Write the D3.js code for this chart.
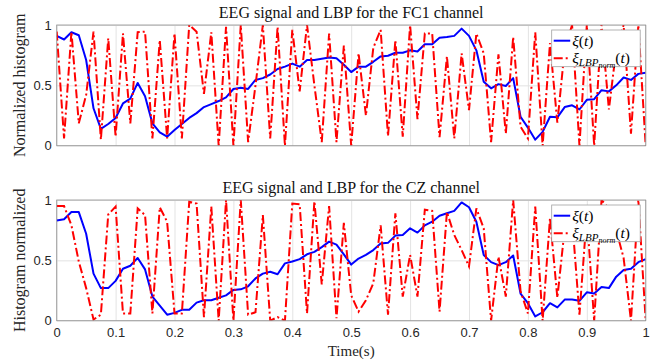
<!DOCTYPE html>
<html>
<head>
<meta charset="utf-8">
<script src="https://cdn.jsdelivr.net/npm/d3@7"></script>
<style>
  body { margin: 0; background: #fff; }
</style>
</head>
<body>
<div id="chart"></div>
<script>
// samples every 0.0125 s over one second
const sampleCount = 81;
const time = d3.range(sampleCount).map(i => i / (sampleCount - 1));

const fc1Eeg = [0.91, 0.88, 0.94, 0.915, 0.71, 0.31, 0.14, 0.18, 0.23, 0.35, 0.39, 0.52, 0.41, 0.185, 0.11, 0.075,
  0.13, 0.18, 0.23, 0.27, 0.32, 0.345, 0.37, 0.40, 0.47, 0.48, 0.47, 0.545, 0.56, 0.59, 0.635, 0.655,
  0.68, 0.655, 0.71, 0.71, 0.72, 0.73, 0.725, 0.67, 0.61, 0.655, 0.655, 0.695, 0.74, 0.745, 0.77, 0.77,
  0.79, 0.78, 0.84, 0.84, 0.895, 0.90, 0.91, 0.97, 0.91, 0.79, 0.53, 0.475, 0.51, 0.495, 0.56, 0.24,
  0.15, 0.05, 0.115, 0.24, 0.235, 0.32, 0.335, 0.30, 0.38, 0.385, 0.46, 0.45, 0.50, 0.565, 0.545, 0.595, 0.605];

const fc1Lbp = [0.945, 0.06, 0.945, 0.185, 0.42, 0.945, 0.05, 0.89, 0.075, 0.93, 0.185, 0.94, 0.945, 0.06, 0.875, 0.06,
  0.93, 0.06, 1.0, 0.945, 0.43, 0.94, 0.0, 0.985, 0.0, 1.0, 0.03, 0.5, 1.0, 0.06, 0.985, 0.0,
  0.96, 0.45, 1.0, 0.5, 0.03, 0.93, 0.03, 0.83, 0.0, 0.765, 0.25, 0.81, 0.96, 0.08, 0.875, 0.075,
  1.0, 0.22, 0.93, 0.93, 0.07, 0.74, 0.06, 0.765, 0.295, 0.93, 0.765, 0.03, 0.757, 0.10, 0.90, 0.157,
  0.06, 0.94, 0.0, 0.85, 0.19, 0.80, 1.0, 0.0, 1.0, 0.0, 1.0, 0.3, 0.8, 1.0, 0.1, 1.0, 0.0];

const czEeg = [0.83, 0.84, 0.90, 0.90, 0.72, 0.39, 0.27, 0.27, 0.33, 0.43, 0.455, 0.52, 0.425, 0.20, 0.125, 0.05,
  0.065, 0.09, 0.09, 0.15, 0.17, 0.17, 0.19, 0.21, 0.255, 0.26, 0.285, 0.35, 0.39, 0.405, 0.385, 0.475,
  0.49, 0.51, 0.55, 0.57, 0.61, 0.655, 0.63, 0.55, 0.465, 0.515, 0.545, 0.585, 0.64, 0.645, 0.705, 0.71,
  0.765, 0.73, 0.79, 0.82, 0.87, 0.89, 0.91, 0.98, 0.94, 0.82, 0.545, 0.485, 0.46, 0.485, 0.54, 0.225,
  0.145, 0.035, 0.07, 0.145, 0.11, 0.175, 0.175, 0.165, 0.235, 0.225, 0.28, 0.27, 0.365, 0.42, 0.43, 0.485, 0.51];

const czLbp = [0.95, 0.95, 0.79, 0.49, 0.27, 0.01, 0.05, 0.88, 0.945, 0.06, 0.06, 0.93, 0.875, 0.06, 0.94, 0.82,
  0.06, 0.06, 0.985, 0.97, 0.03, 0.945, 0.0, 1.0, 0.0, 1.0, 0.05, 0.07, 0.875, 0.0, 0.03, 0.0,
  0.97, 0.965, 0.06, 0.99, 0.3, 0.95, 0.02, 0.81, 0.21, 0.075, 0.17, 0.31, 0.79, 0.05, 0.89, 0.2,
  0.545, 0.2, 0.92, 0.91, 0.075, 0.90, 0.71, 0.585, 0.45, 0.93, 0.765, 0.0, 0.53, 0.2, 1.0, 0.245,
  0.06, 0.945, 0.0, 0.85, 0.19, 0.765, 0.85, 0.05, 0.875, 0.0, 1.0, 0.93, 0.75, 0.52, 0.0, 1.0, 0.0];

const xTicks = [0, 0.1, 0.2, 0.3, 0.4, 0.5, 0.6, 0.7, 0.8, 0.9, 1];
const yTicks = [0, 0.5, 1];
const panelTitles = ['EEG signal and LBP for the FC1 channel', 'EEG signal and LBP for the CZ channel'];
const panelYLabels = ['Normalized histogram', 'Histogram normalized'];

const width = 658;
const height = 360;
const left = 56.7;
const right = 645.7;
const panels = [
  { top: 25, bottom: 145.7, eeg: fc1Eeg, lbp: fc1Lbp, title: panelTitles[0], ylabel: panelYLabels[0] },
  { top: 200, bottom: 320.7, eeg: czEeg, lbp: czLbp, title: panelTitles[1], ylabel: panelYLabels[1] }
];

const serif = '"Liberation Serif", "DejaVu Serif", serif';
const sans = '"Liberation Sans", Arial, sans-serif';
const dashDot = '9,3,2,3';

const svg = d3.select('#chart')
  .append('svg')
    .attr('width', width)
    .attr('height', height);

const x = d3.scaleLinear().domain([0, 1]).range([left, right]);

panels.forEach((p, i) => {
  const y = d3.scaleLinear().domain([0, 1]).range([p.bottom, p.top]);
  const g = svg.append('g');

  // grid
  g.append('g')
    .attr('transform', `translate(0,${p.bottom})`)
    .call(d3.axisBottom(x).tickValues(xTicks).tickSize(-(p.bottom - p.top)).tickFormat(''))
    .call(a => a.select('.domain').remove())
    .call(a => a.selectAll('line').attr('stroke', '#e3e3e3'));
  g.append('g')
    .attr('transform', `translate(${left},0)`)
    .call(d3.axisLeft(y).tickValues(yTicks).tickSize(-(right - left)).tickFormat(''))
    .call(a => a.select('.domain').remove())
    .call(a => a.selectAll('line').attr('stroke', '#e3e3e3'));

  const clipId = `clip-${i}`;
  svg.append('clipPath').attr('id', clipId)
    .append('rect')
      .attr('x', left).attr('y', p.top)
      .attr('width', right - left).attr('height', p.bottom - p.top);

  const line = d3.line()
    .x((d, k) => x(time[k]))
    .y(d => y(d));

  g.append('path')
    .datum(p.eeg)
    .attr('clip-path', `url(#${clipId})`)
    .attr('fill', 'none')
    .attr('stroke', '#0000ff')
    .attr('stroke-width', 2)
    .attr('stroke-linejoin', 'round')
    .attr('d', line);

  g.append('path')
    .datum(p.lbp)
    .attr('clip-path', `url(#${clipId})`)
    .attr('fill', 'none')
    .attr('stroke', '#ff0000')
    .attr('stroke-width', 2)
    .attr('stroke-dasharray', dashDot)
    .attr('d', line);

  // frame
  g.append('rect')
    .attr('x', left).attr('y', p.top)
    .attr('width', right - left).attr('height', p.bottom - p.top)
    .attr('fill', 'none')
    .attr('stroke', '#8f8f8f')
    .attr('stroke-width', 0.8);

  // y tick labels
  g.append('g')
    .attr('transform', `translate(${left},0)`)
    .call(d3.axisLeft(y).tickValues(yTicks).tickSize(0).tickPadding(5).tickFormat(d3.format('')))
    .call(a => a.select('.domain').remove())
    .call(a => a.selectAll('text').attr('font-family', sans).attr('font-size', 13).attr('fill', '#262626'));

  if (i === 1) {
    g.append('g')
      .attr('transform', `translate(0,${p.bottom})`)
      .call(d3.axisBottom(x).tickValues(xTicks).tickSize(0).tickPadding(7.5).tickFormat(d3.format('')))
      .call(a => a.select('.domain').remove())
      .call(a => a.selectAll('text').attr('font-family', sans).attr('font-size', 13).attr('fill', '#262626'));

    svg.append('text')
      .attr('x', (left + right) / 2)
      .attr('y', 355.5)
      .attr('text-anchor', 'middle')
      .attr('font-family', serif)
      .attr('font-size', 15)
      .attr('fill', '#262626')
      .text('Time(s)');
  }

  // title
  svg.append('text')
    .attr('x', (left + right) / 2)
    .attr('y', p.top - 7)
    .attr('text-anchor', 'middle')
    .attr('font-family', serif)
    .attr('font-size', 16)
    .attr('fill', '#111')
    .text(p.title);

  // y label
  svg.append('text')
    .attr('transform', `translate(25,${(p.top + p.bottom) / 2}) rotate(-90)`)
    .attr('text-anchor', 'middle')
    .attr('font-family', serif)
    .attr('font-size', 16)
    .attr('fill', '#262626')
    .text(p.ylabel);

  // legend
  const lg = svg.append('g').attr('transform', `translate(551.7,${p.top + 5})`);
  lg.append('rect')
    .attr('width', 88.5).attr('height', 36.7)
    .attr('fill', '#fff')
    .attr('stroke', '#a0a0a0')
    .attr('stroke-width', 0.8);
  lg.append('line')
    .attr('x1', 2).attr('x2', 18.5).attr('y1', 10.7).attr('y2', 10.7)
    .attr('stroke', '#0000ff').attr('stroke-width', 2);
  lg.append('line')
    .attr('x1', 2).attr('x2', 18.5).attr('y1', 28.3).attr('y2', 28.3)
    .attr('stroke', '#ff0000').attr('stroke-width', 2).attr('stroke-dasharray', dashDot);

  const t1 = lg.append('text')
    .attr('x', 20.5).attr('y', 15.5)
    .attr('font-family', serif).attr('font-size', 15.5).attr('fill', '#000');
  t1.append('tspan').attr('font-style', 'italic').text('ξ');
  t1.append('tspan').text('(');
  t1.append('tspan').attr('font-style', 'italic').text('t');
  t1.append('tspan').text(')');

  const t2 = lg.append('text')
    .attr('x', 20.5).attr('y', 32.5)
    .attr('font-family', serif).attr('font-size', 15.5).attr('fill', '#000');
  t2.append('tspan').attr('font-style', 'italic').text('ξ');
  t2.append('tspan').attr('font-style', 'italic').attr('font-size', 11).attr('dy', 3).text('LBP');
  t2.append('tspan').attr('font-style', 'italic').attr('font-size', 8).attr('dy', 2).text('norm');
  t2.append('tspan').attr('dy', -5).text('(');
  t2.append('tspan').attr('font-style', 'italic').text('t');
  t2.append('tspan').text(')');
});
</script>
</body>
</html>
